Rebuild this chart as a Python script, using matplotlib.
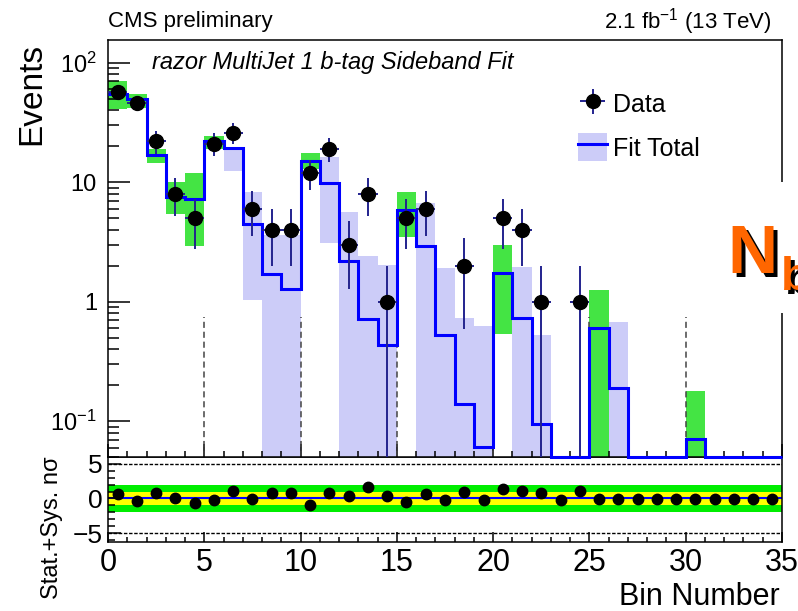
import numpy as np
import matplotlib
matplotlib.use("Agg")
from matplotlib import pyplot as plt
from matplotlib.patches import Patch, Rectangle
from matplotlib.lines import Line2D
from matplotlib.ticker import MultipleLocator, LogLocator, NullFormatter, FixedLocator, FixedFormatter

plt.rcParams['font.family'] = ['Liberation Sans', 'DejaVu Sans']
plt.rcParams['mathtext.fontset'] = 'custom'
plt.rcParams['mathtext.rm'] = 'Liberation Sans'
plt.rcParams['mathtext.it'] = 'Liberation Sans:italic'

# values
bin_edges = np.arange(36)
data_counts = [57, 46, 22, 8, 5, 21, 26, 6, 4, 4,
               12, 19, 3, 8, 1, 5, 6, 0, 2, 0,
               5, 4, 1, 0, 1, 0, 0, 0, 0, 0,
               0, 0, 0, 0, 0]
fit_total = [55, 50, 17, 7.5, 7.2, 22, 19.4, 4.5, 1.7, 1.28,
             15, 9.9, 2.2, 0.72, 0.43, 5.8, 2.94, 0.53, 0.14, 0.061,
             1.75, 0.73, 0.095, 0, 0, 0.60, 0.19, 0, 0, 0,
             0.071, 0, 0, 0, 0]
band_lo = [41, 42, 14.5, 5.4, 2.9, 18.8, 12.3, 1.04, 0, 0,
           13, 3.1, 0, 0, 0, 3.5, 0, 0, 0, 0,
           0.54, 0, 0, 0, 0, 0, 0, 0, 0, 0,
           0, 0, 0, 0, 0]
band_hi = [70, 55, 19, 10, 12, 24.5, 19.8, 8.2, 3.6, 3.6,
           17.5, 16.3, 5.6, 2.4, 2.04, 8.2, 6.7, 1.93, 0.73, 0.62,
           3.0, 1.96, 0.53, 0, 0, 1.24, 0.67, 0, 0, 0,
           0.18, 0, 0, 0, 0]
# True = sideband bins (green), False = extrapolated bins (lavender)
band_in_fit = [True, True, True, True, True, True, False, False, False, False,
               True, False, False, False, False, True, False, False, False, False,
               True, False, False, False, False, True, False, False, False, False,
               True, False, False, False, False]
pulls = [0.7, -0.3, 0.8, 0.0, -0.7, -0.2, 1.15, -0.1, 0.8, 0.8,
         -1.0, 0.8, 0.35, 1.65, 0.35, -0.45, 0.6, -0.15, 1.0, -0.15,
         1.3, 1.15, 0.8, -0.15, 1.15, -0.1, -0.1, -0.1, -0.1, -0.1,
         -0.1, -0.1, -0.1, -0.1, -0.1]
region_edges = [5, 10, 15, 20, 25, 30]

W, H = 798, 611
YMIN, YMAX = 0.05, 155

def fx(px):
    return px / W

def fy(py):
    return 1 - py / H

fig = plt.figure(figsize=(W / 100, H / 100), dpi=100)
ax = fig.add_axes([fx(108), fy(457), fx(782) - fx(108), fy(40) - fy(457)])
axr = fig.add_axes([fx(108), fy(542), fx(782) - fx(108), fy(457) - fy(542)])
ax.set_zorder(2)  # so the fit line on empty bins shows over the shared edge

green_col = '#44e444'
lav_col = '#ccccf8'
blue_col = '#0000ff'

# ---- top panel ----
left = bin_edges[:-1]
centers = left + 0.5
lo = np.array(band_lo, float)
hi = np.array(band_hi, float)
fitmask = np.array(band_in_fit)
has = hi > 0

m = has & fitmask
ax.bar(left[m], (hi - lo)[m], bottom=lo[m], width=1, align='edge', color=green_col, lw=0, zorder=1)
m = has & ~fitmask
ax.bar(left[m], (hi - lo)[m], bottom=lo[m], width=1, align='edge', color=lav_col, lw=0, zorder=1)

ax.vlines(region_edges, YMIN, 0.75, colors='#444444', linestyles=(0, (4, 2.5)), lw=1.1, zorder=2)

# empty bins sit on the lower edge of the frame
ax.stairs(np.maximum(np.array(fit_total, float), YMIN), bin_edges, color=blue_col, lw=2.2,
          baseline=None, zorder=4, clip_on=False)

n = np.array(data_counts, float)
hd = n > 0
err = np.sqrt(n)
err_lo = np.minimum(err, n * 0.999)
eb = ax.errorbar(centers[hd], n[hd], xerr=0.5, yerr=[err_lo[hd], err[hd]], fmt='o',
                 color='black', ms=10, ecolor='#23238e', elinewidth=1.4, capsize=0, zorder=5)

ax.set_yscale('log')
ax.set_ylim(YMIN, YMAX)
ax.set_xlim(0, 35)
ax.yaxis.set_major_locator(FixedLocator([0.1, 1, 10, 100]))
ax.yaxis.set_major_formatter(FixedFormatter([r'$\mathregular{10^{-1}}$', '1', '10', r'$\mathregular{10^{2}}$']))
ax.yaxis.set_minor_locator(LogLocator(subs=np.arange(2, 10)))
ax.yaxis.set_minor_formatter(NullFormatter())
ax.xaxis.set_major_locator(MultipleLocator(5))
ax.xaxis.set_minor_locator(MultipleLocator(1))
ax.tick_params(axis='y', which='major', direction='in', length=16, width=1.1, labelsize=17, pad=8)
ax.tick_params(axis='y', which='minor', direction='in', length=8, width=1.1)
ax.tick_params(axis='x', which='major', direction='in', length=9.5, width=1.1, labelbottom=False)
ax.tick_params(axis='x', which='minor', direction='in', length=4.5, width=1.1)
for s in ax.spines.values():
    s.set_linewidth(1.1)

ax.legend([eb, (Patch(facecolor=lav_col, lw=0), Line2D([], [], color=blue_col, lw=2.2))],
          ['Data', 'Fit Total'], loc='upper left', bbox_to_anchor=(fx(578), fy(90)),
          bbox_transform=fig.transFigure, frameon=False, fontsize=18,
          handlelength=1.16, handleheight=1.36, handletextpad=0.24, labelspacing=0.6,
          borderpad=0, borderaxespad=0)

# ---- pull panel ----
axr.axhspan(-2, 2, color='#00ee00', lw=0, zorder=0)
axr.axhspan(-1, 1, color='#ffff00', lw=0, zorder=0)
axr.axhline(0, color=blue_col, lw=1.5, zorder=1)
for yv in (5, -5):
    axr.axhline(yv, color='black', ls=(0, (2.5, 1.2)), lw=1.0, zorder=1)
axr.plot(centers, pulls, 'o', color='black', ms=7.5, zorder=3)
axr.set_xlim(0, 35)
axr.set_ylim(-6.3, 6.0)
axr.set_yticks([-5, 0, 5])
axr.set_yticklabels(['\u22125', '0', '5'])
axr.yaxis.set_minor_locator(MultipleLocator(1))
axr.xaxis.set_major_locator(MultipleLocator(5))
axr.xaxis.set_minor_locator(MultipleLocator(1))
axr.tick_params(axis='y', which='major', direction='in', length=9, width=1.1, labelsize=19, pad=4)
axr.tick_params(axis='y', which='minor', direction='in', length=5, width=1.1)
axr.tick_params(axis='x', which='major', direction='in', length=7, width=1.1, labelsize=22, pad=4)
axr.tick_params(axis='x', which='minor', direction='in', length=3.6, width=1.1)
for s in axr.spines.values():
    s.set_linewidth(1.1)

# ---- text ----
fig.text(fx(108), fy(22), 'CMS preliminary', fontsize=16, ha='left', va='center')
fig.text(fx(772), fy(22), r'2.1 fb$^{\mathregular{-1}}$ (13 TeV)', fontsize=16, ha='right', va='center')
fig.text(fx(152), fy(62), 'razor MultiJet 1 b-tag Sideband Fit', fontsize=17, style='italic',
         ha='left', va='center')
fig.text(fx(32), fy(94), 'Events', rotation=90, fontsize=24, ha='center', va='center')
fig.text(fx(52), fy(528), 'Stat.+Sys. n\u03c3', rotation=90, fontsize=17, ha='center', va='center')
fig.text(fx(780), fy(597), 'Bin Number', fontsize=22, ha='right', va='center')

# N_b overlay label (cut at the right edge, as in the slide)
fig.add_artist(Rectangle((fx(727), fy(313)), fx(798) - fx(727), fy(182) - fy(313),
                         transform=fig.transFigure, color='white', lw=0, zorder=4))
for dx, dy, col in ((4, 4, 'black'), (0, 0, '#ff6600')):
    fig.text(fx(727 + dx), fy(273 + dy), 'N', fontsize=50, fontweight='bold', color=col,
             ha='left', va='baseline', zorder=5)
    fig.text(fx(781 + dx), fy(290 + dy), 'b', fontsize=34, fontweight='bold', color=col,
             ha='left', va='baseline', zorder=5)

fig.savefig('out.png', dpi=100)
